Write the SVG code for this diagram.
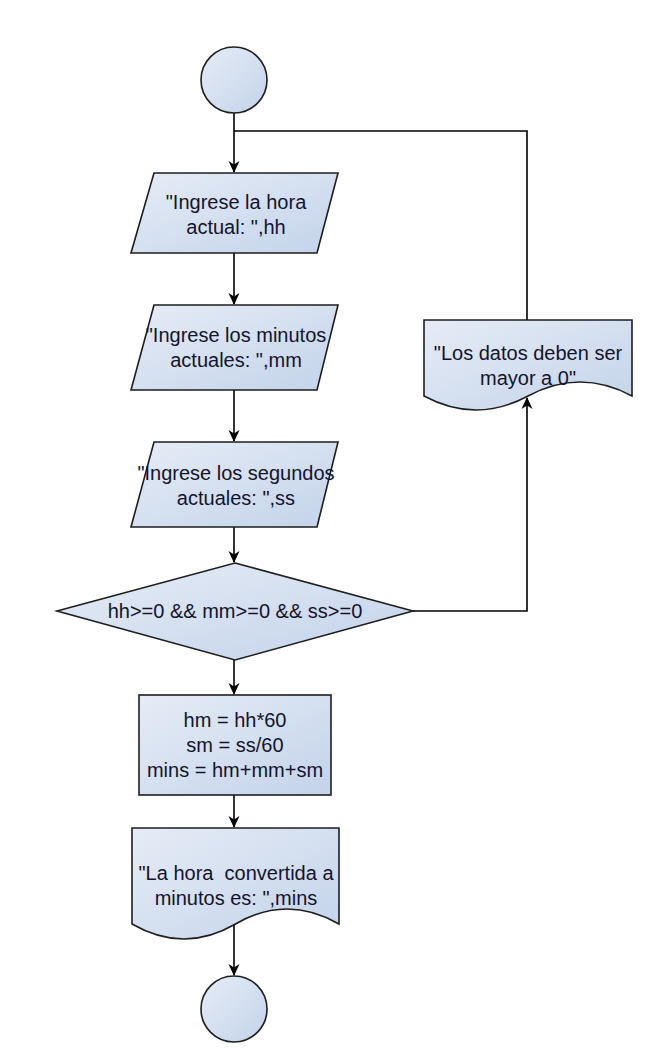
<svg xmlns="http://www.w3.org/2000/svg" width="652" height="1051" viewBox="0 0 652 1051">
  <defs>
    <linearGradient id="fillGrad" x1="0" y1="0" x2="1" y2="1">
      <stop offset="0" stop-color="#e6ecf6"/>
      <stop offset="1" stop-color="#c3d3ea"/>
    </linearGradient>
    <marker id="arrow" viewBox="0 0 12 12" refX="11" refY="6" markerWidth="12" markerHeight="12" markerUnits="userSpaceOnUse" orient="auto">
      <path d="M0,0.5 L12,6 L0,11.5 L3.5,6 Z" fill="#000"/>
    </marker>
  </defs>
  <style>
    .shape { fill: url(#fillGrad); stroke: #1e1e1e; stroke-width: 1.6; }
    .conn { fill: none; stroke: #000; stroke-width: 1.6; }
    .lbl { font-family: "Liberation Sans", Arial, sans-serif; font-size: 20px; fill: #14142c; text-anchor: middle; white-space: pre; }
  </style>
  <rect width="652" height="1051" fill="#ffffff"/>

  <g id="connectors">
    <line class="conn" x1="234" y1="113" x2="234" y2="172" marker-end="url(#arrow)"/>
    <line class="conn" x1="234" y1="253" x2="234" y2="304" marker-end="url(#arrow)"/>
    <line class="conn" x1="234" y1="390" x2="234" y2="441" marker-end="url(#arrow)"/>
    <line class="conn" x1="234" y1="527" x2="234" y2="562" marker-end="url(#arrow)"/>
    <line class="conn" x1="234" y1="660" x2="234" y2="694" marker-end="url(#arrow)"/>
    <line class="conn" x1="234" y1="795" x2="234" y2="827" marker-end="url(#arrow)"/>
    <line class="conn" x1="234" y1="924" x2="234" y2="975" marker-end="url(#arrow)"/>
    <polyline class="conn" points="413,611 527,611 527,398" marker-end="url(#arrow)"/>
    <polyline class="conn" points="527,320 527,131 234,131"/>
  </g>

  <g id="start">
    <circle class="shape" cx="234" cy="80" r="33"/>
  </g>

  <g id="input-hh">
    <polygon class="shape" points="154,173 338,173 317,253 131,253"/>
    <text class="lbl" x="236" y="209">"Ingrese la hora</text>
    <text class="lbl" x="236" y="234">actual: ",hh</text>
  </g>

  <g id="input-mm">
    <polygon class="shape" points="154,305 338,305 317,390 131,390"/>
    <text class="lbl" x="236" y="342">"Ingrese los minutos</text>
    <text class="lbl" x="236" y="367">actuales: ",mm</text>
  </g>

  <g id="input-ss">
    <polygon class="shape" points="154,442 338,442 317,527 131,527"/>
    <text class="lbl" x="236" y="480">"Ingrese los segundos</text>
    <text class="lbl" x="236" y="505">actuales: ",ss</text>
  </g>

  <g id="decision">
    <polygon class="shape" points="235,563 413,611 235,660 57,611"/>
    <text class="lbl" x="235" y="618">hh&gt;=0 &amp;&amp; mm&gt;=0 &amp;&amp; ss&gt;=0</text>
  </g>

  <g id="error-output">
    <path class="shape" d="M424,320 H632 V396 Q580,368 528,396 Q476,424 424,396 Z"/>
    <text class="lbl" x="528" y="360">"Los datos deben ser</text>
    <text class="lbl" x="528" y="385">mayor a 0"</text>
  </g>

  <g id="process">
    <rect class="shape" x="139" y="695" width="192" height="100"/>
    <text class="lbl" x="235" y="727">hm = hh*60</text>
    <text class="lbl" x="235" y="752">sm = ss/60</text>
    <text class="lbl" x="235" y="777">mins = hm+mm+sm</text>
  </g>

  <g id="result-output">
    <path class="shape" d="M132,828 H339 V924 Q287,894 235.5,924 Q184,954 132,924 Z"/>
    <text class="lbl" x="236" y="880">"La hora  convertida a</text>
    <text class="lbl" x="236" y="905">minutos es: ",mins</text>
  </g>

  <g id="end">
    <circle class="shape" cx="234" cy="1009" r="33"/>
  </g>
</svg>
